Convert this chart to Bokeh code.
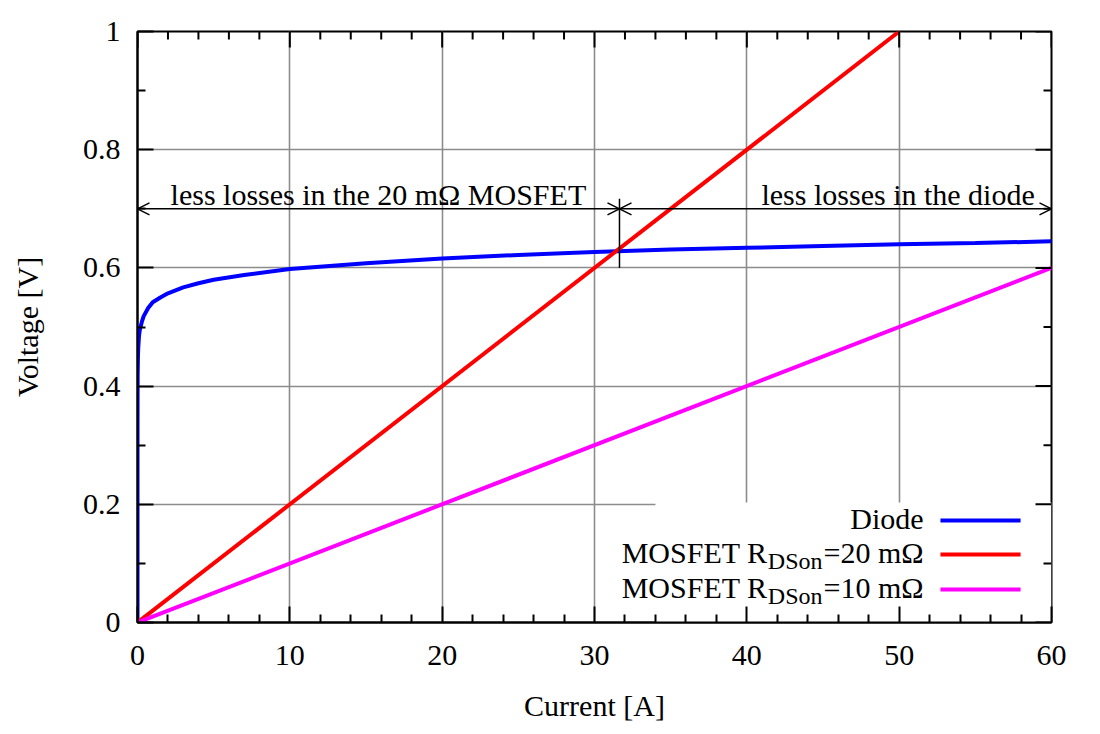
from bokeh.plotting import figure
from bokeh.models import FixedTicker, Arrow, OpenHead, Range1d
from bokeh.core.properties import value
from bokeh.embed import file_html
from bokeh.resources import INLINE

FONT = "Liberation Serif"

# ---- data ----
diode_current = [0, 0.001, 0.003, 0.01, 0.03, 0.05, 0.1, 0.15, 0.2, 0.3, 0.4, 0.7, 1,
                 1.5, 2, 3, 4, 5, 7, 10, 15, 20, 25, 30, 35, 40, 45, 50, 55, 60]
diode_voltage = [0, 0.33, 0.37, 0.42, 0.45, 0.465, 0.485, 0.495, 0.50, 0.51, 0.518,
                 0.532, 0.542, 0.55, 0.557, 0.567, 0.574, 0.58, 0.588, 0.598, 0.608,
                 0.616, 0.622, 0.627, 0.631, 0.634, 0.637, 0.640, 0.642, 0.645]
mos20_current = [0, 50]
mos20_voltage = [0, 1.0]
mos10_current = [0, 60]
mos10_voltage = [0, 0.6]

x_ticks = [0, 10, 20, 30, 40, 50, 60]
x_labels = ["0", "10", "20", "30", "40", "50", "60"]
x_minor = [2, 4, 6, 8, 12, 14, 16, 18, 22, 24, 26, 28, 32, 34, 36, 38, 42, 44, 46, 48,
           52, 54, 56, 58]
y_ticks = [0, 0.2, 0.4, 0.6, 0.8, 1.0]
y_labels = ["0", "0.2", "0.4", "0.6", "0.8", "1"]
y_minor = [0.1, 0.3, 0.5, 0.7, 0.9]

crossover_current = 31.64
marker_voltage = [0.6, 0.717]
arrow_voltage = 0.7
ann_left = "less losses in the 20 mΩ MOSFET"
ann_right = "less losses in the diode"

legend_main = ["Diode", "MOSFET R", "MOSFET R"]
legend_sub = ["", "DSon", "DSon"]
legend_tail = ["", "=20 mΩ", "=10 mΩ"]
legend_colors = ["#0000ff", "#ff0000", "#ff00ff"]

# ---- figure ----
FW, FH = 914, 591
XMIN, XMAX, YMIN, YMAX = 0, 60, 0, 1
p = figure(frame_width=FW, frame_height=FH, output_backend="svg",
           toolbar_location=None, x_range=Range1d(XMIN, XMAX), y_range=Range1d(YMIN, YMAX),
           min_border_left=137, min_border_top=31, min_border_right=35,
           min_border_bottom=100, background_fill_color="white")
p.outline_line_color = "black"
p.outline_line_width = 2

MAJ, MIN = 16, 8

def style_axis(ax, ticker, labels):
    ax.ticker = ticker
    ax.axis_line_color = "black"
    ax.axis_line_width = 2
    ax.major_tick_in = MAJ
    ax.major_tick_out = 0
    ax.minor_tick_in = MIN
    ax.minor_tick_out = 0
    ax.major_tick_line_width = 2
    ax.minor_tick_line_width = 2
    ax.major_tick_line_color = "black"
    ax.minor_tick_line_color = "black"
    ax.major_label_text_font = FONT
    ax.axis_label_text_font = FONT
    ax.axis_label_text_font_style = "normal"
    ax.axis_label_text_color = "black"
    ax.major_label_text_color = "black"
    ax.major_label_overrides = {t: l for t, l in zip(ticker.ticks, labels)}
    ax.major_label_text_font_size = "30px"
    ax.axis_label_text_font_size = "30px"

xa = p.xaxis[0]
ya = p.yaxis[0]
style_axis(xa, FixedTicker(ticks=x_ticks, minor_ticks=x_minor), x_labels)
style_axis(ya, FixedTicker(ticks=y_ticks, minor_ticks=y_minor), y_labels)
xa.axis_label = "Current [A]"
ya.axis_label = "Voltage [V]"
xa.major_label_standoff = 23
xa.axis_label_standoff = 21
ya.major_label_standoff = 17
ya.axis_label_standoff = 36

p.xgrid.ticker = FixedTicker(ticks=x_ticks)
p.ygrid.ticker = FixedTicker(ticks=y_ticks)
for g in (p.xgrid[0], p.ygrid[0]):
    g.grid_line_color = "#8c8c8c"
    g.grid_line_width = 1.6

# legend background hides the grid
p.quad(left=[34], right=[60], bottom=[0], top=[0.203], fill_color="white",
       line_color=None)

# data lines
p.line(diode_current, diode_voltage, line_color=legend_colors[0], line_width=4)
p.line(mos20_current, mos20_voltage, line_color=legend_colors[1], line_width=4)
p.line(mos10_current, mos10_voltage, line_color=legend_colors[2], line_width=4)

# mirrored ticks on the top and right border (inward)
dy_maj = MAJ * (YMAX - YMIN) / FH
dy_min = MIN * (YMAX - YMIN) / FH
dx_maj = MAJ * (XMAX - XMIN) / FW
dx_min = MIN * (XMAX - XMIN) / FW
p.segment(x0=x_ticks, y0=[YMAX] * len(x_ticks), x1=x_ticks,
          y1=[YMAX - dy_maj] * len(x_ticks), line_color="black", line_width=2)
p.segment(x0=x_minor, y0=[YMAX] * len(x_minor), x1=x_minor,
          y1=[YMAX - dy_min] * len(x_minor), line_color="black", line_width=2)
p.segment(x0=[XMAX] * len(y_ticks), y0=y_ticks, x1=[XMAX - dx_maj] * len(y_ticks),
          y1=y_ticks, line_color="black", line_width=2)
p.segment(x0=[XMAX] * len(y_minor), y0=y_minor, x1=[XMAX - dx_min] * len(y_minor),
          y1=y_minor, line_color="black", line_width=2)

# annotations: arrows and marker
for x0, x1 in ((XMIN, crossover_current), (crossover_current, XMAX)):
    p.add_layout(Arrow(x_start=x0, y_start=arrow_voltage, x_end=x1, y_end=arrow_voltage,
                       line_color="black", line_width=1.5,
                       start=OpenHead(size=12, line_width=1.5, line_color="black"),
                       end=OpenHead(size=12, line_width=1.5, line_color="black")))
p.segment(x0=[crossover_current], y0=[marker_voltage[0]], x1=[crossover_current],
          y1=[marker_voltage[1]], line_color="black", line_width=1.5)

ann_y = 0.7056 + 11 / FH
p.text(x=[2.17], y=[ann_y], text=[ann_left], text_font=value(FONT),
       text_font_size="30px", text_align="left", text_baseline="alphabetic",
       text_color="black")
p.text(x=[40.96], y=[ann_y], text=[ann_right], text_font=value(FONT),
       text_font_size="30px", text_align="left", text_baseline="alphabetic",
       text_color="black")

# legend (manual, to allow subscripts)
row_y = [0.1726, 0.1151, 0.0558]
shift = 10 / FH
base_y = [0.159 + shift, 0.102 + shift, 0.0428 + shift]
sub_drop = 0.015
text_end = 51.6
sub_end = 44.97
main_end = 41.36
for i in range(3):
    if legend_sub[i]:
        p.text(x=[text_end], y=[base_y[i]], text=[legend_tail[i]], text_font=value(FONT),
               text_font_size="30px", text_align="right", text_baseline="alphabetic",
               text_color="black")
        p.text(x=[sub_end], y=[base_y[i] - sub_drop], text=[legend_sub[i]],
               text_font=value(FONT), text_font_size="24px", text_align="right",
               text_baseline="alphabetic", text_color="black")
        p.text(x=[main_end], y=[base_y[i]], text=[legend_main[i]], text_font=value(FONT),
               text_font_size="30px", text_align="right", text_baseline="alphabetic",
               text_color="black")
    else:
        p.text(x=[text_end], y=[base_y[i]], text=[legend_main[i]], text_font=value(FONT),
               text_font_size="30px", text_align="right", text_baseline="alphabetic",
               text_color="black")
    p.line([52.71, 57.97], [row_y[i], row_y[i]], line_color=legend_colors[i], line_width=4)

open("out.html", "w").write(file_html(p, INLINE))
